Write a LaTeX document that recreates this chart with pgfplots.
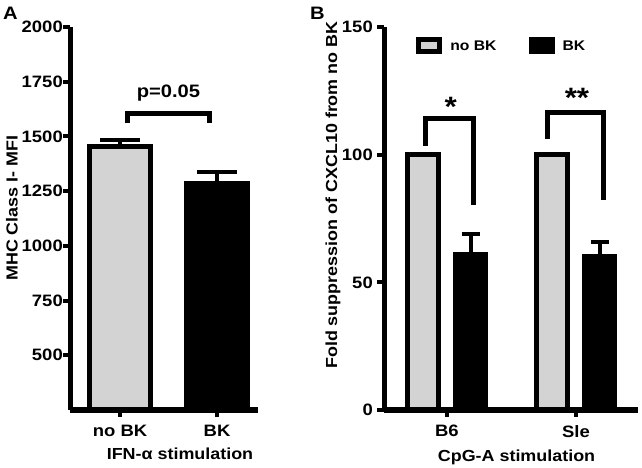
\documentclass[border=0pt]{standalone}
\usepackage{pgfplots}
\pgfplotsset{compat=1.18}
\usepackage{fontspec}
\setmainfont{Liberation Sans}[FakeStretch=1.12]
\definecolor{barGray}{RGB}{211,211,211}
\pgfplotsset{
  common/.style={
    scale only axis,
    axis on top,
    axis x line*=bottom, axis y line*=left,
    axis line style={line width=5bp, -},
    tick style={line width=4bp, black},
    major tick length=7bp,
    tick align=outside,
    /pgf/number format/assume math mode=true,
    /pgf/number format/1000 sep={},
    tick label style={font=\bfseries\fontsize{16.5bp}{18bp}\selectfont},
    yticklabel style={anchor=east, inner sep=0pt},
    xticklabel style={anchor=north, inner sep=0pt, yshift=-8bp},
    label style={font=\bfseries\fontsize{16bp}{18bp}\selectfont},
    ybar,
  },
  errs/.style={error bars/.cd, y dir=plus, y explicit,
    error bar style={line width=4bp, black},
    error mark options={rotate=90, line width=4bp, mark size=#1, black}},
}
\begin{document}
\begin{tikzpicture}
\useasboundingbox (0bp,0bp) rectangle (642bp,468bp);
\node[anchor=north west, inner sep=0pt, font=\bfseries\fontsize{18bp}{20bp}\selectfont] at (3bp,461bp) {A};
\node[anchor=north west, inner sep=0pt, font=\bfseries\fontsize{18bp}{20bp}\selectfont] at (310bp,461bp) {B};
% Panel A
\begin{axis}[common, at={(70bp,58bp)}, anchor=south west, width=188bp, height=383bp,
  xmin=-0.5155, xmax=1.4227, ymin=250, ymax=2000,
  ytick={500,750,1000,1250,1500,1750,2000},
  xtick={0,1}, xticklabels={no BK, BK},
  bar width=61bp,
  ylabel={MHC Class I- MFI},
  ylabel style={at={(axis description cs:-0.309,0.527)}, anchor=center, rotate=0, inner sep=0pt},
  xlabel={IFN-α stimulation},
  xlabel style={at={(axis description cs:0.585,-0.0992)}, anchor=north, inner sep=0pt},
]
\addplot[bar shift=0pt, fill=barGray, draw=black, line width=5bp, errs=20bp]
  coordinates {(0,1453) +- (0,31)};
\addplot[bar shift=0pt, fill=black, draw=black, line width=5bp, errs=20bp]
  coordinates {(1,1283) +- (0,55)};
\draw[line width=5bp] (axis cs:0.079,1560) -- (axis cs:0.079,1603.5) -- (axis cs:0.918,1603.5) -- (axis cs:0.918,1560);
\node[anchor=north, inner sep=0pt, font=\bfseries\fontsize{18bp}{20bp}\selectfont] at (axis cs:0.5,1735) {p=0.05};
\end{axis}
% Panel B
\begin{axis}[common, at={(384bp,58bp)}, anchor=south west, width=254bp, height=383bp,
  xmin=-0.488, xmax=1.481, ymin=0, ymax=150,
  ytick={0,50,100,150},
  yticklabel style={xshift=-4bp},
  xtick={0,1}, xticklabels={B6, Sle},
  bar width=30.5bp,
  ylabel={Fold suppression of CXCL10 from no BK},
  ylabel style={at={(axis description cs:-0.2008,0.561)}, anchor=center, rotate=0, inner sep=0pt},
  xlabel={CpG-A stimulation},
  xlabel style={at={(axis description cs:0.5217,-0.104)}, anchor=north, inner sep=0pt},
  legend image code/.code={\draw[#1,/tikz/.cd,line width=5bp] (0bp,-6bp) rectangle (21bp,6bp);},
  legend columns=2,
  legend style={at={(rel axis cs:0.115,0.9504)}, anchor=west, draw=none, fill=none,
    font=\bfseries\fontsize{14bp}{16bp}\selectfont,
    /tikz/every odd column/.append style={column sep=6bp},
    /tikz/every even column/.append style={column sep=30bp}},
]
\addplot[bar shift=-23.75bp, fill=barGray, draw=black, line width=5bp]
  coordinates {(0,100) (1,100)};
\addplot[bar shift=23.75bp, fill=black, draw=black, line width=5bp, errs=9bp]
  coordinates {(0,61) +- (0,7.9) (1,60) +- (0,5.7)};
\legend{no BK, BK}
\draw[line width=5bp] (axis cs:-0.163,103.5) -- (axis cs:-0.163,114.1) -- (axis cs:0.209,114.1) -- (axis cs:0.209,80.3);
\draw[line width=5bp] (axis cs:0.783,106) -- (axis cs:0.783,116.7) -- (axis cs:1.215,116.7) -- (axis cs:1.215,82.3);
\node[anchor=north, inner sep=0pt, font=\bfseries\fontsize{28bp}{30bp}\selectfont] at (axis cs:0.03,122.7) {*};
\node[anchor=north, inner sep=0pt, font=\bfseries\fontsize{28bp}{30bp}\selectfont] at (axis cs:1.008,126.0) {**};
\end{axis}
\end{tikzpicture}
\end{document}
